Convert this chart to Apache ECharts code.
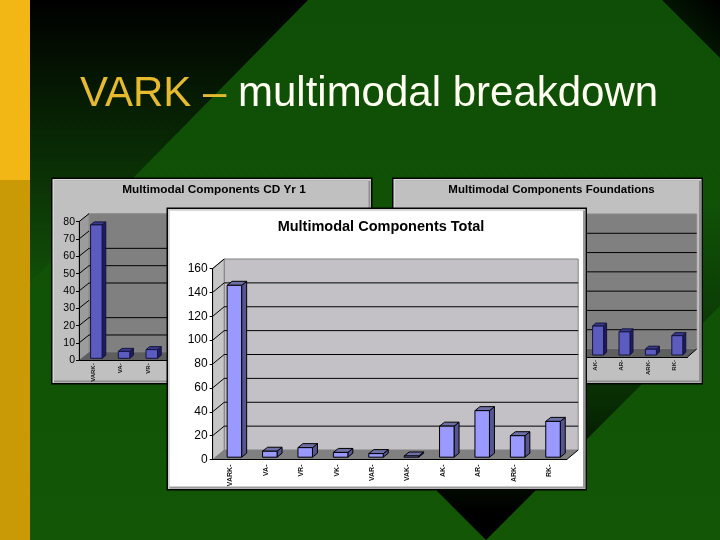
<!DOCTYPE html>
<html><head><meta charset="utf-8">
<style>html,body{margin:0;padding:0;background:#115208}#c{width:720px;height:540px}</style>
<script src="https://cdn.jsdelivr.net/npm/echarts@6/dist/echarts.min.js"></script>
</head><body><div id="c"></div>
<script>
const categories = ['VARK-','VA-','VR-','VK-','VAR-','VAK-','AK-','AR-','ARK-','RK-'];
const totalValues = [144,5,8,4,3,1,26,39,18,30];
const cdYr1Values = [77,4,5,null,null,null,null,null,null,null];
const foundationsValues = [null,null,null,null,null,null,15,12,3,10];
const totalGridLines = [20,40,60,80,100,120,140];
const cdYr1GridLines = [10,20,40,50,60];
const foundationsGridLines = [10,20,30,40,50,60];
const slideTitle = ['VARK –','multimodal','breakdown'];
const chartTitles = ['Multimodal Components CD Yr 1','Multimodal Components Foundations','Multimodal Components Total'];

const dim = {wall:'#808080',side:'#9c9c9c',floor:'#5e5e5e',border:'#8a8a8a',front:'#5c5cc0',bSide:'#1c1c60',bTop:'#3a3a8c',line:'#000',edge:'#14143c'};
const lite = {wall:'#c3c1c5',side:'#c6c6c6',floor:'#808080',border:'#808080',front:'#9999ff',bSide:'#55558f',bTop:'#6f6fa8',line:'#000',edge:'#000'};

const charts = [
 {rect:[79,221.7,277,138.6],max:80,step:10,vals:cdYr1Values,lines:cdYr1GridLines,d:[10,8],bd:[3.7,3],off:[3.5,2],w:11.5,pal:dim,z:3,fs:10.5,lf:6,m:3,ym:4},
 {rect:[423.5,222,264,135],max:70,step:10,vals:foundationsValues,lines:foundationsGridLines,d:[9.2,8],bd:[3,3],off:[3,2],w:11,pal:dim,z:3,fs:10.5,lf:6,m:3,ym:4},
 {rect:[212.7,268.5,354,191],max:160,step:20,vals:totalValues,lines:totalGridLines,d:[11.5,9.5],bd:[5,4],off:[4,2.3],w:14.5,pal:lite,z:20,fs:12,lf:7,m:5,ym:5}
];

function poly(points,fill,stroke,lw){return {type:'polygon',shape:{points},style:{fill,stroke:stroke||null,lineWidth:lw||0}};}
function line(a,b,stroke,lw){return {type:'line',shape:{x1:a[0],y1:a[1],x2:b[0],y2:b[1]},style:{stroke,lineWidth:lw||1}};}

const grid=[],xAxis=[],yAxis=[],series=[];
charts.forEach((c,i)=>{
  grid.push({left:c.rect[0],top:c.rect[1],width:c.rect[2],height:c.rect[3],z:c.z});
  xAxis.push({type:'category',gridIndex:i,data:categories,z:c.z+2,
    axisLine:{lineStyle:{color:'#000',width:1}},axisTick:{length:3,interval:0,lineStyle:{color:'#000'}},
    axisLabel:{interval:0,rotate:90,fontFamily:'Liberation Sans',fontWeight:'bold',fontSize:c.lf,color:'#111',margin:c.m},splitLine:{show:false}});
  yAxis.push({type:'value',gridIndex:i,min:0,max:c.max,interval:c.step,z:c.z+2,
    axisLine:{show:true,lineStyle:{color:'#000',width:1}},axisTick:{show:true,length:3,lineStyle:{color:'#000'}},
    axisLabel:{fontFamily:'Liberation Sans',fontSize:c.fs,color:'#000',margin:c.ym},splitLine:{show:false}});
  const [dx,dy]=c.d, p=c.pal;
  series.push({type:'custom',xAxisIndex:i,yAxisIndex:i,z:c.z,silent:true,clip:false,data:[[0,0]],
    renderItem:(params,api)=>{
      const hb=api.size([1,0])[0]/2;
      const o=api.coord([0,0]), e=api.coord([categories.length-1,0]), t=api.coord([0,c.max]);
      const L=o[0]-hb,R=e[0]+hb,B=o[1],T=t[1];
      return {type:'group',children:[
        poly([[L+dx,T-dy],[R+dx,T-dy],[R+dx,B-dy],[L+dx,B-dy]],p.wall,p.border,1),
        poly([[L,T],[L+dx,T-dy],[L+dx,B-dy],[L,B]],p.side,p.border,1),
        poly([[L,B],[L+dx,B-dy],[R+dx,B-dy],[R,B]],p.floor),
        line([R,B],[R+dx,B-dy],'#000',1)
      ]};
    }});
  series.push({type:'custom',xAxisIndex:i,yAxisIndex:i,z:c.z,silent:true,clip:false,data:c.lines.map(v=>[0,v]),
    renderItem:(params,api)=>{
      const hb=api.size([1,0])[0]/2;
      const v=api.value(1), a=api.coord([0,v]), e=api.coord([categories.length-1,v]);
      return line([a[0]-hb+dx,a[1]-dy],[e[0]+hb+dx,e[1]-dy],'#000',1);
    }});
  const ticks=[];for(let v=c.step;v<=c.max;v+=c.step)ticks.push([0,v]);
  series.push({type:'custom',xAxisIndex:i,yAxisIndex:i,z:c.z,silent:true,clip:false,data:ticks,
    renderItem:(params,api)=>{
      const hb=api.size([1,0])[0]/2, a=api.coord([0,api.value(1)]);
      return line([a[0]-hb,a[1]],[a[0]-hb+dx,a[1]-dy],'#000',1);
    }});
  series.push({type:'custom',name:chartTitles[i],xAxisIndex:i,yAxisIndex:i,z:c.z+1,silent:true,clip:false,
    data:c.vals.map((v,k)=>[k,v]),
    renderItem:(params,api)=>{
      const v=api.value(1); if(v==null||isNaN(v))return null;
      const k=api.value(0), top=api.coord([k,v]), base=api.coord([k,0]);
      const x0=top[0]+c.off[0]-c.w/2, x1=x0+c.w, yB=base[1]-c.off[1], yT=yB-(base[1]-top[1]);
      const [bx,by]=c.bd, s=p.edge;
      return {type:'group',children:[
        poly([[x1,yT],[x1+bx,yT-by],[x1+bx,yB-by],[x1,yB]],p.bSide,s,1),
        poly([[x0,yT],[x0+bx,yT-by],[x1+bx,yT-by],[x1,yT]],p.bTop,s,1),
        poly([[x0,yT],[x1,yT],[x1,yB],[x0,yB]],p.front,s,1)
      ]};
    }});
});

const vg=(a,b)=>({type:'linear',x:0,y:0,x2:0,y2:1,colorStops:[{offset:0,color:a},{offset:1,color:b}]});
function rect(x,y,w,h,fill,z){return {type:'rect',silent:true,z,shape:{x,y,width:w,height:h},style:{fill}};}
function polyG(points,fill,z){return {type:'polygon',silent:true,z,shape:{points},style:{fill}};}
function panel(x,y,w,h,fill,z,light,dark){return [
  rect(x,y,w,h,'#050505',z),
  rect(x+1.5,y+1.5,w-3,h-3,light,z+.1),
  rect(x+3,y+3,w-5,h-5,dark,z+.2),
  rect(x+3,y+3,w-7,h-7,fill,z+.3)
];}
const elements=[
  rect(0,0,720,540,vg('#0f4e06','#125606'),0),
  polyG([[30,0],[308,0],[30,283]],vg('#000000','#114f08'),0.1),
  polyG([[662,0],[720,0],[720,58]],{type:'linear',x:1,y:0,x2:0,y2:1,colorStops:[{offset:0,color:'#000'},{offset:1,color:'#052a02'}]},0.1),
  polyG([[486,540],[300,354],[486,200],[720,200],[720,306]],{type:'linear',x:0,y:0,x2:0,y2:1,colorStops:[{offset:0,color:'#115208'},{offset:0.6,color:'#082c03'},{offset:0.92,color:'#000000'},{offset:1,color:'#000000'}]},0.1),
  rect(0,0,30,180,'#f2b714',0.2),
  rect(0,180,30,360,'#c99a05',0.2),
  ...panel(51,177.5,321.5,207,'#c0c0c0',1,'#d8d8d8','#8e8e8e'),
  ...panel(392,177.5,311,207,'#c0c0c0',1,'#d8d8d8','#8e8e8e'),
  ...panel(166.5,207.5,420.5,283,'#ffffff',15,'#cfcfcf','#9a9a9a')
];

const F='Liberation Sans', TS=42;
const title=[
 {text:`{a|${slideTitle[0]}} {b|${slideTitle[1]}} {c|${slideTitle[2]}}`,left:80,top:73,padding:0,z:30,
  textStyle:{fontFamily:F,fontSize:TS,fontWeight:'normal',
    rich:{a:{fontFamily:F,fontSize:TS,color:'#e6ba2e'},
          b:{fontFamily:F,fontSize:TS,color:'#fffff2',textShadowColor:'#8d8d48',textShadowOffsetX:2,textShadowOffsetY:2,textShadowBlur:0},
          c:{fontFamily:F,fontSize:TS,color:'#fffff2'}}}},
 {text:chartTitles[0],left:214,top:183.5,padding:0,textAlign:'center',z:5,textStyle:{fontFamily:F,fontSize:11.8,fontWeight:'bold',color:'#000'}},
 {text:chartTitles[1],left:551.5,top:183.5,padding:0,textAlign:'center',z:5,textStyle:{fontFamily:F,fontSize:11.5,fontWeight:'bold',color:'#000'}},
 {text:chartTitles[2],left:381,top:219,padding:0,textAlign:'center',z:30,textStyle:{fontFamily:F,fontSize:14.5,fontWeight:'bold',color:'#000'}}
];

const chart=echarts.init(document.getElementById('c'),null,{renderer:'canvas'});
chart.setOption({animation:false,backgroundColor:'#115208',title,grid,xAxis,yAxis,series,graphic:{elements}});
</script></body></html>
